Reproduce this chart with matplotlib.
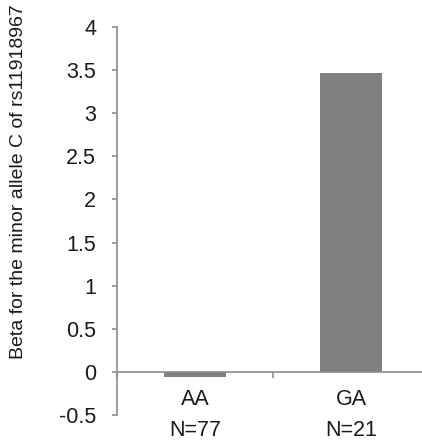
import numpy as np
from matplotlib import pyplot as plt

# Data
genotypes = ['AA', 'GA']
counts = ['N=77', 'N=21']
beta = [-0.06, 3.47]
yticks = [-0.5, 0, 0.5, 1, 1.5, 2, 2.5, 3, 3.5, 4]

plt.rcParams['font.family'] = ['Liberation Sans', 'DejaVu Sans']

fig = plt.figure(figsize=(4.22, 4.41), dpi=100)
ax = fig.add_axes([117/422, 26/441, 312/422, 388/441])

x = np.arange(len(genotypes))
ax.bar(x, beta, width=0.4, color='#808080', zorder=2)

axcol = '#8c8c8c'
txtcol = '#1a1a1a'
ax.set_xlim(-0.5, 1.5)
ax.set_ylim(-0.5, 4)
ax.set_yticks(yticks)
ax.set_yticklabels(['%g' % v for v in yticks])

ax.spines['top'].set_visible(False)
ax.spines['right'].set_visible(False)
ax.spines['bottom'].set_position(('data', 0))
for s in ['left', 'bottom']:
    ax.spines[s].set_color(axcol)
    ax.spines[s].set_linewidth(1.2)

# category dividers as ticks, names and counts as text under the zero line
ax.set_xticks([-0.5, 0.5, 1.5])
ax.set_xticklabels(['', '', ''])
ax.tick_params(axis='x', direction='out', length=4, color=axcol, width=1.2)
ax.tick_params(axis='y', direction='out', length=3.6, color=axcol, width=1.2,
               labelsize=15.5, labelcolor=txtcol, pad=11.5)

for i in range(len(genotypes)):
    ax.annotate(genotypes[i], xy=(x[i], 0), xytext=(0, -28), textcoords='offset pixels',
                ha='center', va='center', fontsize=15.5, color=txtcol, annotation_clip=False)
    ax.annotate(counts[i], xy=(x[i], 0), xytext=(0, -59), textcoords='offset pixels',
                ha='center', va='center', fontsize=15.5, color=txtcol, annotation_clip=False)

fig.text(19/422, 1 - 182/441, 'Beta for the minor allele C of rs11918967',
         rotation=90, ha='center', va='center', fontsize=14, color=txtcol)

plt.savefig('out.png', dpi=100)
